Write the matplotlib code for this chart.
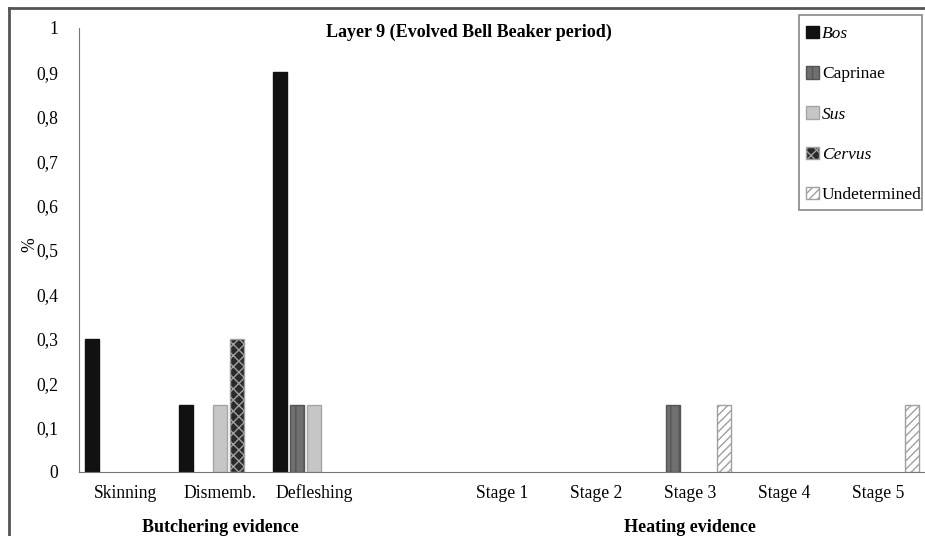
import numpy as np
import matplotlib
matplotlib.use("Agg")
from matplotlib import pyplot as plt
from matplotlib.lines import Line2D
from matplotlib.patches import Rectangle

categories = ["Skinning", "Dismemb.", "Defleshing", "", "Stage 1", "Stage 2", "Stage 3", "Stage 4", "Stage 5"]
taxa = ["Bos", "Caprinae", "Sus", "Cervus", "Undetermined"]
bos = [0.3, 0.15, 0.9, 0, 0, 0, 0, 0, 0]
caprinae = [0, 0, 0.15, 0, 0, 0, 0.15, 0, 0]
sus = [0, 0.15, 0.15, 0, 0, 0, 0, 0, 0]
cervus = [0, 0.3, 0, 0, 0, 0, 0, 0, 0]
undetermined = [0, 0, 0, 0, 0, 0, 0.15, 0, 0.15]
yticks = [0, 0.1, 0.2, 0.3, 0.4, 0.5, 0.6, 0.7, 0.8, 0.9, 1]
ytick_labels = ["0", "0,1", "0,2", "0,3", "0,4", "0,5", "0,6", "0,7", "0,8", "0,9", "1"]

plt.rcParams['font.family'] = ['Liberation Serif', 'DejaVu Serif']
plt.rcParams['hatch.linewidth'] = 1.0

W, H = 925, 536
fig = plt.figure(figsize=(W / 100, H / 100), dpi=100)
ax = fig.add_axes([79 / W, (H - 472) / H, (925 - 79) / W, (472 - 28) / H])

# style per taxon: face, edge, hatch
styles = [
    ("#111111", "#111111", None),
    ("#707070", "#555555", "||"),
    ("#c6c6c6", "#a6a6a6", None),
    ("#2a2a2a", "#a0a0a0", "xxx"),
    ("#ffffff", "#a0a0a0", "////"),
]
series = [bos, caprinae, sus, cervus, undetermined]
x = np.arange(len(categories))
slot = 0.181
bw = 0.154
for i, (vals, (fc, ec, h)) in enumerate(zip(series, styles)):
    vals = np.array(vals, dtype=float)
    keep = vals > 0
    ax.bar(x[keep] + (i - 2) * slot, vals[keep], bw, color=fc, edgecolor=ec, hatch=h,
           linewidth=1.0, label=taxa[i])

fs = 12.7
ax.set_xlim(-0.5, 8.5)
ax.set_ylim(0, 1)
ax.set_xticks(x)
ax.set_xticklabels(categories, fontsize=fs)
ax.set_yticks(yticks)
ax.set_yticklabels(ytick_labels, fontsize=fs)
ax.tick_params(axis="x", length=0, pad=9)
ax.tick_params(axis="y", length=0, pad=15)
for s in ["top", "right"]:
    ax.spines[s].set_visible(False)
ax.spines["left"].set_color("#777777")
ax.spines["bottom"].set_color("#777777")
ax.set_ylabel("%", fontsize=fs, va="center")
ax.yaxis.set_label_coords(30 / W, 1 - 245 / H, transform=fig.transFigure)

fig.text(469 / W, 1 - 32 / H, "Layer 9 (Evolved Bell Beaker period)",
         ha="center", va="center", fontsize=13, fontweight="bold")
ax.text(1, -0.124, "Butchering evidence", transform=ax.get_xaxis_transform(),
        ha="center", va="center", fontsize=13, fontweight="bold")
ax.text(6, -0.124, "Heating evidence", transform=ax.get_xaxis_transform(),
        ha="center", va="center", fontsize=13, fontweight="bold")

# legend without frame, frame drawn by hand to get the tight right edge
leg = fig.legend(loc="upper left", bbox_to_anchor=(806 / W, 1 - 26 / H), fontsize=12.5,
                 frameon=False, handlelength=0.72, handleheight=0.72, handletextpad=0.2,
                 labelspacing=1.38, borderpad=0, borderaxespad=0)
for t in leg.get_texts():
    if t.get_text() in ("Bos", "Sus", "Cervus"):
        t.set_style("italic")
fig.add_artist(Rectangle((799 / W, 1 - 210 / H), 123 / W, 195 / H, transform=fig.transFigure,
                         facecolor="none", edgecolor="#888888", lw=1.2, zorder=5))

# outer border of the cropped picture
fig.add_artist(Line2D([9 / W, 9 / W], [0, 1 - 8 / H], transform=fig.transFigure, color="#555555", lw=2))
fig.add_artist(Line2D([9 / W, 1], [1 - 8 / H, 1 - 8 / H], transform=fig.transFigure, color="#555555", lw=2))

fig.savefig("out.png", dpi=100)
